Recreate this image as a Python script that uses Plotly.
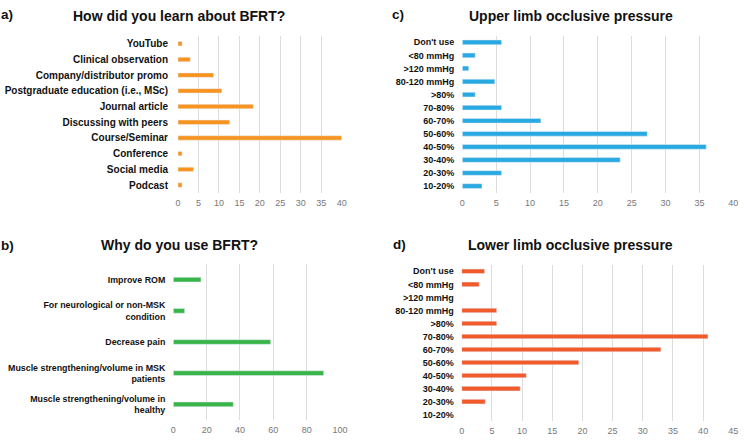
import plotly.graph_objects as go

W, H = 750, 444

# Panel a
a_cats = ["YouTube", "Clinical observation", "Company/distributor promo",
          "Postgraduate education (i.e., MSc)", "Journal article", "Discussing with peers",
          "Course/Seminar", "Conference", "Social media", "Podcast"]
a_vals = [1, 3, 8.7, 10.7, 18.4, 12.6, 40, 1, 3.8, 1]

# Panel b
b_cats = ["Improve ROM", "For neurological or non-MSK<br>condition", "Decrease pain",
          "Muscle strengthening/volume in MSK<br>patients", "Muscle strengthening/volume in<br>healthy"]
b_vals = [16.6, 6.8, 58.4, 90.2, 36]

# Panel c
c_cats = ["Don't use", "<80 mmHg", ">120 mmHg", "80-120 mmHg", ">80%", "70-80%",
          "60-70%", "50-60%", "40-50%", "30-40%", "20-30%", "10-20%"]
c_vals = [5.8, 1.9, 0.95, 4.8, 1.9, 5.8, 11.6, 27.3, 36, 23.3, 5.8, 2.9]

# Panel d
d_cats = ["Don't use", "<80 mmHg", ">120 mmHg", "80-120 mmHg", ">80%", "70-80%",
          "60-70%", "50-60%", "40-50%", "30-40%", "20-30%", "10-20%"]
d_vals = [3.8, 2.9, 0, 5.8, 5.8, 40.8, 33, 19.4, 10.7, 9.7, 3.9, 0]

a_ticks = [0, 5, 10, 15, 20, 25, 30, 35, 40]
b_ticks = [0, 20, 40, 60, 80, 100]
c_ticks = [0, 5, 10, 15, 20, 25, 30, 35, 40]
d_ticks = [0, 5, 10, 15, 20, 25, 30, 35, 40, 45]

titles = ["How did you learn about BFRT?", "Why do you use BFRT?",
          "Upper limb occlusive pressure", "Lower limb occlusive pressure"]
letters = ["a)", "b)", "c)", "d)"]

FONT = "Liberation Sans, Arial, sans-serif"

def px_x(p):
    return p / W

def px_y(p):
    return 1 - p / H

fig = go.Figure()

panels = [
    # cats, vals, color, x0, x1, ytop, ybottom, range, ticks, barwidth, labelsize, standoff
    (a_cats, a_vals, "#F7931E", 178, 341.7, 35.9, 192.9, [0, 40], a_ticks, 0.28, 10, 9),
    (b_cats, b_vals, "#3AB54A", 173.3, 340, 264.1, 419.9, [0, 100], b_ticks, 0.15, 8.85, 7),
    (c_cats, c_vals, "#29A9E1", 462.3, 733.3, 35.8, 192.6, [0, 40], c_ticks, 0.36, 9, 7),
    (d_cats, d_vals, "#F15A2B", 461.7, 733.3, 264.8, 421.2, [0, 45], d_ticks, 0.35, 9, 7),
]

for i, (cats, vals, col, x0, x1, yt, yb, rng, ticks, bw, fs, so) in enumerate(panels):
    n = i + 1
    xa = "x" if n == 1 else f"x{n}"
    ya = "y" if n == 1 else f"y{n}"
    fig.add_trace(go.Bar(x=vals, y=cats, orientation="h", marker_color=col,
                         width=bw, xaxis=xa, yaxis=ya, showlegend=False))
    xkey = "xaxis" if n == 1 else f"xaxis{n}"
    ykey = "yaxis" if n == 1 else f"yaxis{n}"
    fig.update_layout(**{
        xkey: dict(domain=[px_x(x0), px_x(x1)], range=rng, tickvals=ticks,
                   anchor=ya, showgrid=True, gridcolor="#DCDCDC", gridwidth=1,
                   zeroline=False, showline=False, automargin=False,
                   tickfont=dict(family=FONT, size=9, color="#777777"), ticks="",
                   ticklabelstandoff=3),
        ykey: dict(domain=[px_y(yb), px_y(yt)], anchor=xa, type="category",
                   categoryorder="array", categoryarray=cats, autorange="reversed",
                   showgrid=False, zeroline=False, showline=False, ticks="",
                   automargin=False,
                   tickfont=dict(family=FONT, size=fs, color="#111111", weight="bold"),
                   ticklabelstandoff=so),
    })

title_pos = [(179, 16), (179, 245), (571, 16), (570, 245)]
letter_pos = [(7, 15), (7, 245), (398, 15), (399, 244)]
for t, (cx, cy) in zip(titles, title_pos):
    fig.add_annotation(text=f"<b>{t}</b>", x=px_x(cx), y=px_y(cy), xref="paper", yref="paper",
                       showarrow=False, xanchor="center", yanchor="middle",
                       font=dict(family=FONT, size=14, color="#111111"))
for t, (cx, cy) in zip(letters, letter_pos):
    fig.add_annotation(text=f"<b>{t}</b>", x=px_x(cx), y=px_y(cy), xref="paper", yref="paper",
                       showarrow=False, xanchor="center", yanchor="middle",
                       font=dict(family=FONT, size=13.5, color="#111111"))

fig.update_layout(width=W, height=H, margin=dict(l=0, r=0, t=0, b=0),
                  paper_bgcolor="white", plot_bgcolor="white", bargap=0.7)

fig.write_html("out.html")
